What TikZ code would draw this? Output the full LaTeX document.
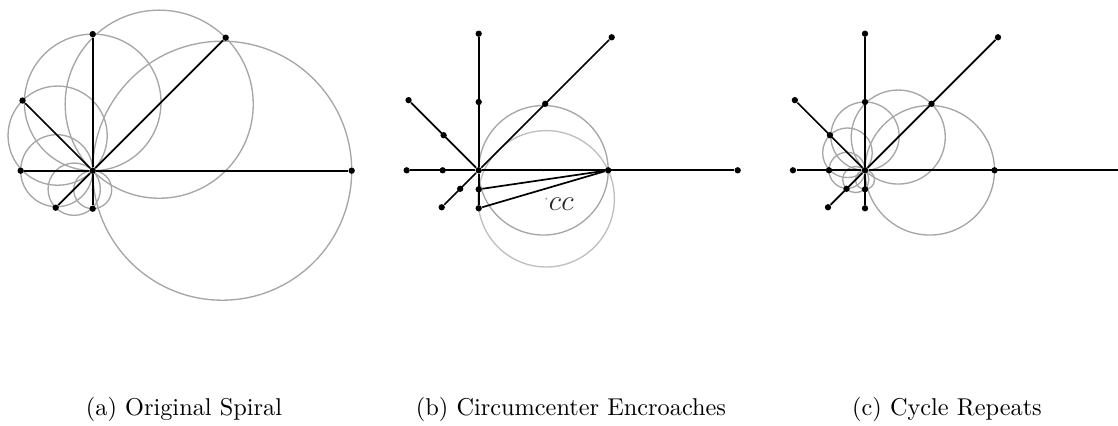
\documentclass[tikz,border=0pt]{standalone}
\usetikzlibrary{calc}
\begin{document}
\begin{tikzpicture}[
  x=0.01445cm, y=0.01445cm,
  ray/.style={line width=0.7pt, black},
  circ/.style={line width=0.55pt, black!35},
  pt/.style={circle, fill=black, inner sep=0pt, minimum size=2.6pt},
  ctr/.style={circle, fill=black!70, inner sep=0pt, minimum size=0.9pt},
  caption/.style={anchor=base, font=\normalsize}
]
  \useasboundingbox (0,0) rectangle (1118,425);

  % (a) original spiral
  \coordinate (oa) at (92.7,254.3);
  \foreach \ang [count=\k from 0] in {0,45,...,270} {
    \pgfmathsetmacro\d{259/1.377^\k}
    \draw[circ] ($(oa)+(\ang:{\d/2})$) circle [radius={\d/2}];
    \node[ctr] (am\k) at ($(oa)+(\ang:{\d/2})$) {};
    \node[pt] (a\k) at ($(oa)+(\ang:\d)$) {};
  }
  \node[pt] (aO) at (oa) {};
  \foreach \k in {0,...,6} \draw[ray] (aO) -- (a\k);

  % (b) circumcenter encroaches
  \coordinate (ob) at (478.7,254.7);
  \coordinate (cc) at ($(ob)+(67.5,-28.5)$);
  \draw[circ] ($(ob)+(0:{259/4})$) circle [radius={259/4}];
  \draw[circ, black!25] (cc) circle [radius=68.2];
  \node[ctr] (bm) at ($(ob)+(0:{259/4})$) {};
  \foreach \ang [count=\k from 0] in {0,45,...,270} {
    \pgfmathsetmacro\d{259/1.377^\k}
    \node[pt] (bh\k) at ($(ob)+(\ang:{\d/2})$) {};
    \node[pt] (b\k) at ($(ob)+(\ang:\d)$) {};
  }
  \node[pt] (bO) at (ob) {};
  \foreach \k in {0,...,6} \draw[ray] (bO) -- (b\k);
  \draw[ray] (bh0) -- (bh6);
  \draw[ray] (bh0) -- (b6);
  \node[ctr, fill=black!35] (ccm) at (cc) {};
  \node[anchor=west, inner sep=0.4pt, font=\large, black!85] (cclabel)
    at ($(cc)+(1.3,-5.2)$) {$cc$};

  % (c) cycle repeats
  \coordinate (oc) at (865,254.7);
  \foreach \ang [count=\k from 0] in {0,45,...,270} {
    \pgfmathsetmacro\d{259/1.377^\k}
    \draw[circ] ($(oc)+(\ang:{\d/4})$) circle [radius={\d/4}];
    \node[ctr] (cm\k) at ($(oc)+(\ang:{\d/4})$) {};
    \node[pt] (ch\k) at ($(oc)+(\ang:{\d/2})$) {};
  }
  \foreach \ang [count=\k from 1] in {45,90,...,270} {
    \pgfmathsetmacro\d{259/1.377^\k}
    \node[pt] (c\k) at ($(oc)+(\ang:\d)$) {};
  }
  \coordinate (c0) at (1118,254.7);
  \node[pt] (cO) at (oc) {};
  \foreach \k in {0,...,6} \draw[ray] (cO) -- (c\k);

  \node[caption] (capa) at (184,10) {(a) Original Spiral};
  \node[caption] (capb) at (571,10) {(b) Circumcenter Encroaches};
  \node[caption] (capc) at (947,10) {(c) Cycle Repeats};
\end{tikzpicture}
\end{document}
